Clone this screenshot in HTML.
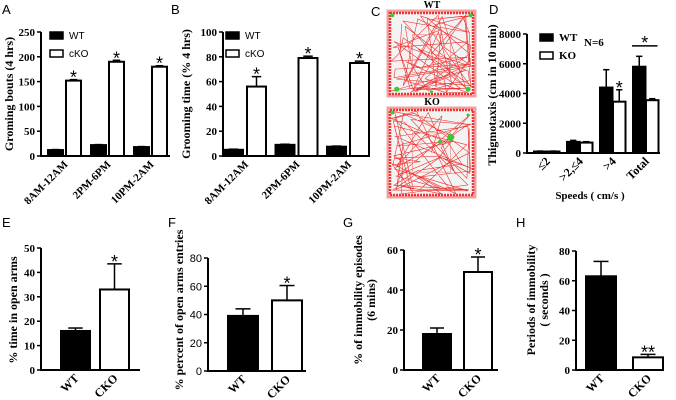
<!DOCTYPE html>
<html><head><meta charset="utf-8"><style>
html,body{margin:0;padding:0;background:#fff;}
svg{display:block;}
text{font-family:"Liberation Serif",serif;font-weight:bold;fill:#000;}
.sans{font-family:"Liberation Sans",sans-serif;font-weight:normal;}
</style></head><body>
<svg id="fig" width="676" height="400" viewBox="0 0 676 400" xmlns="http://www.w3.org/2000/svg"></svg>
<script>
// ---- data ----
const aCats = ["8AM-12AM","2PM-6PM","10PM-2AM"];
const aWT = [12,22,18];
const aKO = [152,190,180];
const aWTErr = [1,1,1];
const aKOErr = [2,3,2];
const aTicks = [0,50,100,150,200,250];

const bCats = ["8AM-12AM","2PM-6PM","10PM-2AM"];
const bWT = [5,9,7.5];
const bKO = [56,79,75];
const bWTErr = [0.5,0.5,0.5];
const bKOErr = [8,1.5,1.5];
const bTicks = [0,20,40,60,80,100];

const dCats = ["\u22642",">2,\u22644",">4","Total"];
const dWT = [100,750,4400,5800];
const dKO = [100,700,3450,3550];
const dWTErr = [30,100,1200,700];
const dKOErr = [30,60,800,100];
const dTicks = [0,2000,4000,6000,8000];

const eCats = ["WT","CKO"];
const eVals = [16,33];
const eErr = [1.2,10.5];
const eTicks = [0,10,20,30,40,50];

const fCats = ["WT","CKO"];
const fVals = [39,50];
const fErr = [5,10.5];
const fTicks = [0,20,40,60,80];

const gCats = ["WT","CKO"];
const gVals = [18,49];
const gErr = [3,7.5];
const gTicks = [0,20,40,60];

const hCats = ["WT","CKO"];
const hVals = [63,8.5];
const hErr = [10,2];
const hTicks = [0,20,40,60,80];

const NS="http://www.w3.org/2000/svg";
const svg=document.getElementById('fig');
function mk(tag,attrs,parent){const e=document.createElementNS(NS,tag);for(const k in attrs)e.setAttribute(k,attrs[k]);(parent||svg).appendChild(e);return e;}
function txt(x,y,s,size,attrs,parent){const t=mk('text',Object.assign({x:x,y:y,'font-size':size},attrs||{}),parent);t.textContent=s;return t;}

function panel(name,cfg){
  const g=mk('g',{});
  
  
  const ymax=cfg.ticks[cfg.ticks.length-1];
  const Y=v=>cfg.y0-(v/ymax)*(cfg.y0-cfg.yTop);
  const ax=mk('path',{d:`M${cfg.ax} ${cfg.yTop}V${cfg.y0}H${cfg.xEnd}`,stroke:'#000','stroke-width':2,fill:'none'},g);
  
  
  cfg.ticks.forEach(t=>{
    mk('line',{x1:cfg.ax-4,x2:cfg.ax,y1:Y(t),y2:Y(t),stroke:'#000','stroke-width':1.5},g);
    const tl=txt(cfg.ax-6,Y(t)+4,String(t),cfg.tickSize||11,{'text-anchor':'end',class:cfg.sansTicks?'sans':''},g);
    
    
  });
  cfg.series.forEach((s,si)=>{
    s.vals.forEach((v,i)=>{
      const x=cfg.x0+i*cfg.step+si*cfg.off;
      const fill=Array.isArray(s.fill)?s.fill[i]:s.fill;
      const r=mk('rect',{x:x,y:Y(v),width:cfg.bw,height:cfg.y0-Y(v),fill:fill,stroke:'#000','stroke-width':2},g);
      
      
      const cx=x+cfg.bw/2, ye=Y(v+s.err[i]);
      mk('line',{x1:cx,x2:cx,y1:Y(v),y2:ye,stroke:'#000','stroke-width':1.5},g);
      mk('line',{x1:cx-cfg.bw/4,x2:cx+cfg.bw/4,y1:ye,y2:ye,stroke:'#000','stroke-width':1.5},g);
      if(s.stars&&s.stars[i]){
        const st=txt(cx,ye+4,s.stars[i],18,{'text-anchor':'middle',class:'sans'},g);
        
        
      }
    });
  });
  const nser=cfg.series.length;
  cfg.cats.forEach((c,i)=>{
    const cx=cfg.x0+i*cfg.step+((nser-1)*cfg.off+cfg.bw)/2;
    const lx=cx+4, ly=cfg.y0+9;
    const t=txt(lx,ly,c,cfg.xSize||12,{'text-anchor':'end',transform:`rotate(-45 ${lx} ${ly})`,class:cfg.sansX?'sans':''},g);
    
    
  });
  const yl=cfg.ylab;
  yl.lines.forEach((l,li)=>{
    const x=yl.x+li*13;
    const t=txt(x,yl.y,l,yl.size||12,{'text-anchor':'middle',transform:`rotate(-90 ${x} ${yl.y})`,class:yl.sans?'sans':''},g);
    
    
  });
  const pl=txt(cfg.letter[1],cfg.letter[2],cfg.letter[0],13,{class:'sans'},g);
  
  
  return {g,Y};
}
function legend(g,x,y,items,size){
  items.forEach((it,i)=>{
    const r=mk('rect',{x:x,y:y+i*18,width:13,height:7,fill:it[1],stroke:'#000','stroke-width':1.5},g);
    
    
    const t=txt(x+19,y+i*18+7,it[0],size||10,{class:it[2]?'sans':''},g);
    
    
  });
}

let p=panel('panel-a',{ax:41,y0:156,yTop:32,xEnd:170,ticks:aTicks,x0:48,step:43,off:18,bw:15,cats:aCats,xSize:11,
  series:[{key:'wt',vals:aWT,err:aWTErr,fill:'#000'},{key:'cko',vals:aKO,err:aKOErr,fill:'#fff',stars:['*','*','*']}],
  ylab:{x:13,y:94,lines:['Groming bouts (4 hrs)']},letter:['A',2,14]});
legend(p.g,50,32,[['WT','#000',1],['cKO','#fff',1]]);
p=panel('panel-b',{ax:223,y0:156,yTop:32,xEnd:370,ticks:bTicks,x0:224,step:51.5,off:23,bw:19,cats:bCats,xSize:11,
  series:[{key:'wt',vals:bWT,err:bWTErr,fill:'#000'},{key:'cko',vals:bKO,err:bKOErr,fill:'#fff',stars:['*','*','*']}],
  ylab:{x:190,y:94,lines:['Grooming time (% 4 hrs)']},letter:['B',171,14]});
legend(p.g,226,32,[['WT','#000',1],['cKO','#fff',1]]);
p=panel('panel-d',{ax:527,y0:153,yTop:34,xEnd:660,ticks:dTicks,x0:534,step:33,off:13,bw:12.5,cats:dCats,xSize:12,
  series:[{key:'wt',vals:dWT,err:dWTErr,fill:'#000'},{key:'ko',vals:dKO,err:dKOErr,fill:'#fff',stars:['','','*','']}],
  ylab:{x:496,y:95,lines:['Thigmotaxis (cm in 10 min)']},letter:['D',489,14]});
legend(p.g,540,34,[['WT','#000'],['KO','#fff']],11);
txt(584,46,'N=6',11,{},p.g);
{const x1=533+3*33,x2=x1+13+12.5; mk('line',{x1:x1,x2:x2,y1:p.Y(7200),y2:p.Y(7200),stroke:'#000','stroke-width':1.5},p.g);
 txt((x1+x2)/2,p.Y(7200)+3,'*',18,{'text-anchor':'middle',class:'sans'},p.g);}
{const t=txt(590,199,'Speeds ( cm/s )',11,{'text-anchor':'middle'},p.g);}
panel('panel-e',{ax:41,y0:370,yTop:248,xEnd:140,ticks:eTicks,x0:61,step:39,off:0,bw:29,cats:eCats,
  series:[{key:'val',vals:eVals,err:eErr,fill:['#000','#fff'],stars:['','*']}],
  ylab:{x:17,y:310,lines:['% time in open arms']},letter:['E',2,227]});
panel('panel-f',{ax:208,y0:371,yTop:258,xEnd:306,ticks:fTicks,x0:228,step:44,off:0,bw:30,cats:fCats,sansTicks:true,
  series:[{key:'val',vals:fVals,err:fErr,fill:['#000','#fff'],stars:['','*']}],
  ylab:{x:183,y:310,lines:['% percent of open arms entries']},letter:['F',168,227]});
panel('panel-g',{ax:404,y0:370,yTop:250,xEnd:498,ticks:gTicks,x0:423,step:41,off:0,bw:28,cats:gCats,
  series:[{key:'val',vals:gVals,err:gErr,fill:['#000','#fff'],stars:['','*']}],
  ylab:{x:362,y:300,lines:['% of immobility episodes','(6 mins)']},letter:['G',343,227]});
panel('panel-h',{ax:576,y0:370,yTop:251,xEnd:664,ticks:hTicks,x0:586,step:47,off:0,bw:30,cats:hCats,
  series:[{key:'val',vals:hVals,err:hErr,fill:['#000','#fff'],stars:['','**']}],
  ylab:{x:535,y:300,lines:['Periods of immobility','( seconds )']},letter:['H',516,227]});

let seed=7;function rnd(){seed=(seed*16807)%2147483647;return seed/2147483647;}
function track(name,x,y,w,h,green){
  const g=mk('g',{});
  
  
  mk('rect',{x:x,y:y,width:w,height:h,fill:'#f3f3f3',stroke:'#f0a0a0','stroke-width':3},g);
  let d='',px=x+w/2,py=y+h/2;d+=`M${px} ${py}`;
  for(let i=0;i<70;i++){
    let side=rnd();
    if(side<0.5){px=x+3+rnd()*(w-6);py=rnd()<0.5?y+3+rnd()*6:y+h-3-rnd()*6;}
    else{py=y+3+rnd()*(h-6);px=rnd()<0.5?x+3+rnd()*6:x+w-3-rnd()*6;}
    if(rnd()<0.3){px=x+10+rnd()*(w-20);py=y+10+rnd()*(h-20);}
    d+=`L${px.toFixed(1)} ${py.toFixed(1)}`;
  }
  mk('path',{d:d,stroke:'#e33','stroke-width':0.6,fill:'none'},g);
  mk('rect',{x:x+2,y:y+2,width:w-4,height:h-4,fill:'none',stroke:'#e33','stroke-width':2.5,'stroke-dasharray':'2 1'},g);
  mk('rect',{x:x+w*0.28,y:y+h*0.28,width:w*0.44,height:h*0.44,fill:'none',stroke:'#e66','stroke-width':0.5},g);
  green.forEach(c=>mk('circle',{cx:x+c[0]*w,cy:y+c[1]*h,r:c[2],fill:'#3c3'},g));
}
track('track-wt',388,11,87,85,[[0.05,0.05,2],[0.95,0.05,2],[0.1,0.92,2.5],[0.92,0.92,2.5],[0.5,0.95,1.5]]);
track('track-ko',388,108,87,89,[[0.05,0.05,2],[0.72,0.33,3.5],[0.6,0.38,2],[0.92,0.08,1.5]]);
txt(432,8,'WT',10,{'text-anchor':'middle'});
txt(432,105,'KO',10,{'text-anchor':'middle'});
txt(371,16,'C',13,{class:'sans'});
</script>
</body></html>
